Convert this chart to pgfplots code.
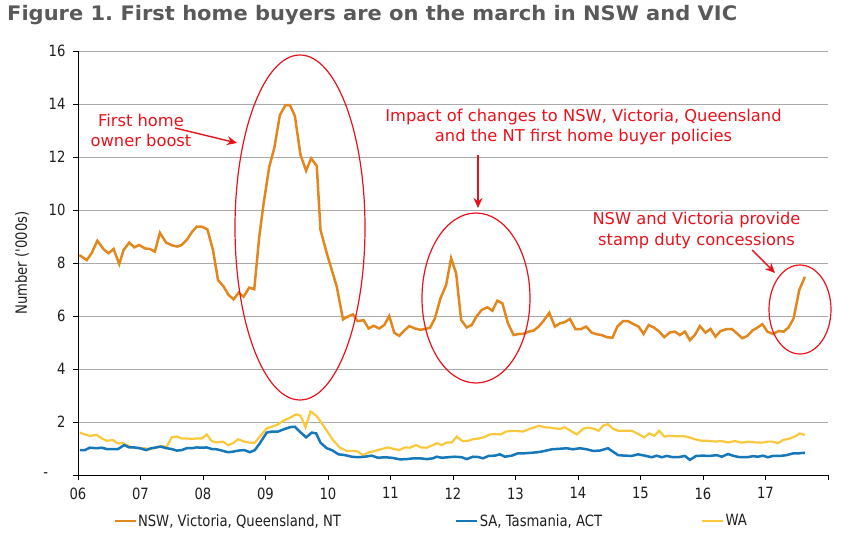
\documentclass[border=0pt]{standalone}
\usepackage{fontspec}
\setmainfont{DejaVu Sans}
\newfontfamily\narrowfont[FakeStretch=0.85]{DejaVu Sans}
\newfontfamily\titlefont[FakeStretch=1.05]{DejaVu Sans}
\usepackage{pgfplots}
\usepackage{pgfplotstable}
\pgfplotsset{compat=1.18}
\usetikzlibrary{arrows.meta}
\definecolor{cOrange}{RGB}{226,135,30}
\definecolor{cBlue}{RGB}{22,120,186}
\definecolor{cYellow}{RGB}{250,200,60}
\definecolor{cRed}{RGB}{232,18,28}
\definecolor{cGrid}{RGB}{170,170,170}
\definecolor{cTitle}{RGB}{89,89,89}
\definecolor{cText}{RGB}{30,30,30}

\pgfplotstableread{
x y
2006.02 8.30
2006.14 8.11
2006.22 8.38
2006.31 8.84
2006.41 8.52
2006.49 8.37
2006.57 8.53
2006.66 7.96
2006.73 8.49
2006.82 8.77
2006.90 8.59
2006.98 8.68
2007.07 8.55
2007.15 8.53
2007.23 8.43
2007.31 9.14
2007.41 8.77
2007.50 8.67
2007.59 8.62
2007.66 8.68
2007.74 8.87
2007.82 9.16
2007.90 9.37
2007.98 9.37
2008.07 9.27
2008.16 8.49
2008.24 7.36
2008.33 7.11
2008.41 6.79
2008.49 6.63
2008.57 6.88
2008.65 6.73
2008.74 7.07
2008.82 7.01
2008.90 8.99
2008.97 10.25
2009.06 11.63
2009.14 12.33
2009.23 13.58
2009.32 13.96
2009.39 13.96
2009.47 13.55
2009.56 12.08
2009.65 11.48
2009.73 11.95
2009.82 11.66
2009.88 9.25
2009.98 8.37
2010.06 7.74
2010.14 7.11
2010.24 5.87
2010.31 5.97
2010.40 6.06
2010.47 5.81
2010.57 5.84
2010.65 5.53
2010.73 5.63
2010.82 5.53
2010.90 5.66
2010.98 6.00
2011.06 5.37
2011.14 5.25
2011.22 5.45
2011.30 5.62
2011.39 5.53
2011.48 5.48
2011.55 5.51
2011.63 5.55
2011.71 5.91
2011.80 6.67
2011.89 7.17
2011.97 8.18
2012.05 7.61
2012.13 5.85
2012.22 5.57
2012.30 5.66
2012.38 6.00
2012.46 6.23
2012.55 6.33
2012.63 6.20
2012.71 6.58
2012.79 6.48
2012.88 5.72
2012.97 5.28
2013.05 5.32
2013.13 5.33
2013.21 5.41
2013.29 5.45
2013.37 5.60
2013.45 5.82
2013.54 6.12
2013.63 5.60
2013.71 5.72
2013.79 5.77
2013.87 5.89
2013.96 5.50
2014.04 5.50
2014.13 5.60
2014.22 5.37
2014.30 5.31
2014.38 5.28
2014.46 5.20
2014.55 5.18
2014.63 5.60
2014.72 5.81
2014.80 5.81
2014.88 5.70
2014.97 5.60
2015.05 5.32
2015.13 5.66
2015.21 5.57
2015.30 5.41
2015.38 5.20
2015.47 5.38
2015.55 5.41
2015.63 5.28
2015.71 5.41
2015.79 5.09
2015.87 5.28
2015.95 5.62
2016.04 5.37
2016.12 5.51
2016.20 5.22
2016.28 5.43
2016.37 5.50
2016.46 5.51
2016.54 5.35
2016.63 5.16
2016.71 5.25
2016.79 5.45
2016.87 5.56
2016.95 5.69
2017.03 5.41
2017.12 5.32
2017.21 5.43
2017.29 5.41
2017.37 5.57
2017.45 5.91
2017.54 6.98
2017.63 7.48
}\orangedata

\pgfplotstableread{
x y
2006.03 0.94
2006.11 0.94
2006.19 1.03
2006.30 1.01
2006.38 1.03
2006.46 0.98
2006.56 0.98
2006.64 0.98
2006.74 1.13
2006.82 1.04
2006.90 1.04
2006.99 1.01
2007.09 0.94
2007.17 1.01
2007.25 1.04
2007.32 1.07
2007.42 1.01
2007.50 0.98
2007.58 0.92
2007.66 0.94
2007.74 1.01
2007.82 1.01
2007.90 1.04
2007.98 1.03
2008.06 1.04
2008.14 0.98
2008.22 0.97
2008.32 0.91
2008.40 0.86
2008.48 0.88
2008.56 0.92
2008.66 0.94
2008.75 0.86
2008.83 0.94
2008.91 1.20
2009.02 1.60
2009.10 1.64
2009.20 1.64
2009.31 1.74
2009.40 1.81
2009.47 1.82
2009.56 1.61
2009.65 1.42
2009.74 1.60
2009.81 1.57
2009.88 1.22
2009.98 1.01
2010.06 0.94
2010.17 0.78
2010.27 0.75
2010.38 0.69
2010.48 0.67
2010.59 0.69
2010.70 0.73
2010.80 0.65
2010.91 0.67
2011.02 0.65
2011.15 0.59
2011.26 0.60
2011.37 0.63
2011.47 0.63
2011.58 0.60
2011.68 0.63
2011.74 0.69
2011.82 0.65
2011.92 0.67
2012.03 0.69
2012.14 0.67
2012.22 0.60
2012.32 0.69
2012.40 0.68
2012.48 0.63
2012.57 0.72
2012.67 0.73
2012.75 0.78
2012.83 0.69
2012.94 0.73
2013.04 0.82
2013.15 0.82
2013.26 0.84
2013.36 0.86
2013.47 0.91
2013.58 0.97
2013.71 0.99
2013.82 1.01
2013.92 0.97
2014.03 1.01
2014.14 0.97
2014.24 0.91
2014.35 0.92
2014.48 1.01
2014.56 0.88
2014.64 0.75
2014.75 0.73
2014.86 0.72
2014.96 0.78
2015.07 0.73
2015.18 0.67
2015.26 0.73
2015.34 0.67
2015.42 0.72
2015.52 0.67
2015.60 0.67
2015.71 0.72
2015.79 0.57
2015.89 0.72
2016.00 0.73
2016.11 0.72
2016.22 0.75
2016.30 0.69
2016.40 0.79
2016.49 0.72
2016.59 0.67
2016.70 0.67
2016.80 0.71
2016.88 0.69
2016.96 0.73
2017.04 0.67
2017.12 0.72
2017.23 0.72
2017.34 0.75
2017.45 0.82
2017.54 0.82
2017.63 0.84
}\bluedata

\pgfplotstableread{
x y
2006.03 1.60
2006.11 1.53
2006.19 1.48
2006.30 1.51
2006.38 1.38
2006.46 1.29
2006.56 1.32
2006.63 1.20
2006.72 1.20
2006.80 1.11
2006.88 1.03
2006.98 1.01
2007.07 1.01
2007.15 0.97
2007.24 1.03
2007.32 1.09
2007.42 1.07
2007.50 1.42
2007.58 1.45
2007.66 1.38
2007.74 1.38
2007.82 1.36
2007.90 1.38
2007.98 1.38
2008.06 1.53
2008.14 1.28
2008.22 1.23
2008.32 1.26
2008.40 1.13
2008.48 1.20
2008.56 1.35
2008.66 1.26
2008.75 1.22
2008.83 1.22
2008.91 1.45
2009.02 1.76
2009.10 1.82
2009.20 1.91
2009.28 2.04
2009.39 2.16
2009.49 2.29
2009.56 2.24
2009.64 1.80
2009.72 2.40
2009.82 2.22
2009.90 1.95
2009.99 1.64
2010.08 1.32
2010.19 1.03
2010.30 0.91
2010.40 0.91
2010.48 0.88
2010.56 0.75
2010.66 0.86
2010.75 0.91
2010.86 0.98
2010.96 1.04
2011.06 0.98
2011.14 0.94
2011.23 1.04
2011.31 1.03
2011.41 1.13
2011.49 1.04
2011.58 1.03
2011.66 1.11
2011.74 1.20
2011.82 1.13
2011.90 1.23
2011.98 1.23
2012.06 1.45
2012.15 1.28
2012.24 1.29
2012.32 1.35
2012.42 1.38
2012.50 1.43
2012.59 1.53
2012.67 1.55
2012.76 1.53
2012.85 1.64
2012.93 1.66
2013.02 1.66
2013.12 1.64
2013.20 1.72
2013.29 1.79
2013.38 1.86
2013.47 1.80
2013.55 1.79
2013.63 1.76
2013.71 1.74
2013.79 1.80
2013.88 1.67
2013.98 1.53
2014.08 1.74
2014.16 1.79
2014.26 1.74
2014.33 1.67
2014.40 1.86
2014.48 1.92
2014.56 1.74
2014.64 1.67
2014.75 1.67
2014.86 1.67
2014.96 1.55
2015.06 1.42
2015.14 1.57
2015.22 1.48
2015.30 1.67
2015.38 1.45
2015.47 1.48
2015.57 1.46
2015.68 1.47
2015.78 1.42
2015.87 1.35
2015.98 1.29
2016.08 1.29
2016.19 1.26
2016.30 1.28
2016.40 1.23
2016.51 1.28
2016.62 1.22
2016.72 1.26
2016.83 1.23
2016.94 1.22
2017.04 1.26
2017.12 1.26
2017.20 1.20
2017.28 1.32
2017.39 1.38
2017.47 1.45
2017.55 1.57
2017.63 1.51
}\yellowdata

\begin{document}
\frenchspacing
\begin{tikzpicture}[x=1bp,y=1bp]
\useasboundingbox (-78bp,-65bp) rectangle (774bp,475bp);
\begin{axis}[
  at={(0bp,0bp)}, anchor=south west,
  scale only axis, width=750bp, height=424bp,
  xmin=2006, xmax=2018, ymin=0, ymax=16,
  axis x line*=bottom, axis y line*=left,
  axis line style={black, line width=0.8bp, -},
  xtick={2006,2007,...,2018},
  xticklabels={06,07,08,09,10,11,12,13,14,15,16,17,{}},
  ytick={0,2,...,16},
  yticklabels={{\makebox[22bp][l]{-}},2,4,6,8,10,12,14,16},
  tick align=outside, major tick length=5bp,
  tick style={black, line width=0.8bp},
  ymajorgrids, grid style={cGrid, line width=0.8bp},
  ticklabel style={font=\narrowfont\fontsize{15.5bp}{18bp}\selectfont, text=cText},
  xticklabel style={yshift=-4bp},
  yticklabel style={xshift=-4bp},
  ylabel={Number ('000s)},
  ylabel style={font=\narrowfont\fontsize{15.5bp}{18bp}\selectfont, text=cText, at={(axis description cs:-0.0747,0.5)}, anchor=center},
  legend columns=3,
  legend style={at={(axis description cs:0.0467,-0.1085)}, anchor=west, draw=none, fill=none,
    inner sep=0pt, column sep=0pt, nodes={inner sep=0pt, font=\narrowfont\fontsize{15.5bp}{18bp}\selectfont, text=cText}},
  legend cell align=left,
  legend image code/.code={\draw[#1, line width=2.8bp] (0bp,0bp) -- (21bp,0bp);},
]
\addplot[cYellow, line width=2.2bp, forget plot] table {\yellowdata};
\addplot[cBlue, line width=2.5bp, forget plot] table {\bluedata};
\addplot[cOrange, line width=2.5bp, forget plot] table {\orangedata};
\addlegendimage{cOrange}
\addlegendentry{\makebox[318bp][l]{\hspace{1bp}NSW, Victoria, Queensland, NT}}
\addlegendimage{cBlue}
\addlegendentry{\makebox[222bp][l]{\hspace{1bp}SA, Tasmania, ACT}}
\addlegendimage{cYellow}
\addlegendentry{\hspace{1bp}WA}
\end{axis}
% title
\node[anchor=base west, inner sep=0pt, text=cTitle, font=\titlefont\bfseries\fontsize{20bp}{24bp}\selectfont] at (-71bp,454bp) {Figure 1. First home buyers are on the march in NSW and VIC};
% annotations
\begin{scope}[cRed, line width=1.2bp]
\draw (222bp,247.5bp) ellipse [x radius=65bp, y radius=172.5bp];
\draw (398bp,177bp) ellipse [x radius=54bp, y radius=85bp];
\draw (722bp,165.5bp) ellipse [x radius=31bp, y radius=44.5bp];
\draw[-{Stealth[length=10bp,width=9bp]}, line width=1.4bp] (97bp,347bp) -- (159bp,332bp);
\draw[-{Stealth[length=10bp,width=9bp]}, line width=1.4bp] (400bp,320bp) -- (400bp,267bp);
\draw[-{Stealth[length=10bp,width=9bp]}, line width=1.4bp] (674bp,225bp) -- (697bp,202bp);
\end{scope}
\begin{scope}[every node/.style={text=cRed, align=center, inner sep=0pt, font=\fontsize{16.3bp}{20.5bp}\selectfont}]
\node at (63bp,344.5bp) {First home\\owner boost};
\node at (505.5bp,348bp) {Impact of changes to NSW, Victoria, Queensland\\and the NT first home buyer policies};
\node at (618.5bp,244.5bp) {NSW and Victoria provide\\stamp duty concessions};
\end{scope}
\end{tikzpicture}
\end{document}
